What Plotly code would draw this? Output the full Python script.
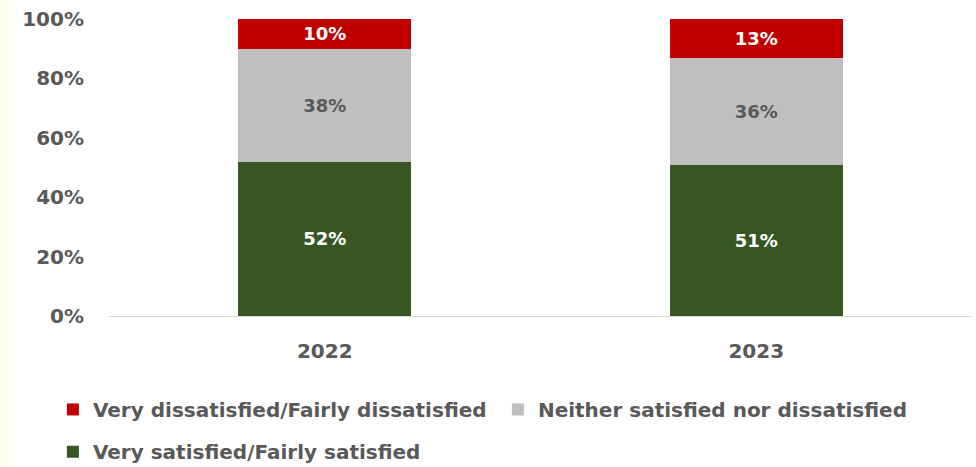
import plotly.graph_objects as go

# Survey years and the share of respondents in each satisfaction band (%)
years = ["2022", "2023"]
satisfied = [52, 51]
neither = [38, 36]
dissatisfied = [10, 13]

# Percentage axis ticks
y_ticks = [0, 20, 40, 60, 80, 100]
y_tick_labels = ["0%", "20%", "40%", "60%", "80%", "100%"]

names = [
    "Very satisfied/Fairly satisfied",
    "Neither satisfied nor dissatisfied",
    "Very dissatisfied/Fairly dissatisfied",
]
colors = ["#375623", "#BFBFBF", "#C00000"]
label_colors = ["#FFFFFF", "#595959", "#FFFFFF"]
legend_ids = ["legend2", "legend", "legend"]

FONT = "DejaVu Sans"
TEXT_GREY = "#595959"

fig = go.Figure()
for name, vals, col, lcol, lg in zip(
    names, [satisfied, neither, dissatisfied], colors, label_colors, legend_ids
):
    fig.add_trace(
        go.Bar(
            x=years,
            y=vals,
            name=name,
            marker=dict(color=col, line=dict(width=0)),
            text=vals,
            texttemplate="%{text}%",
            textposition="inside",
            insidetextanchor="middle",
            textangle=0,
            constraintext="none",
            textfont=dict(family=FONT, size=18, color=lcol, weight="bold"),
            legend=lg,
        )
    )

legend_font = dict(family=FONT, size=20, color=TEXT_GREY, weight="bold")

fig.update_layout(
    barmode="stack",
    bargap=0.6,
    width=976,
    height=467,
    margin=dict(l=109, r=4, t=19, b=151, autoexpand=False),
    paper_bgcolor="#FFFFFF",
    plot_bgcolor="#FFFFFF",
    font=dict(family=FONT, color=TEXT_GREY),
    legend=dict(
        orientation="h",
        x=-0.065,
        xanchor="left",
        y=-0.249,
        yanchor="top",
        traceorder="reversed",
        font=legend_font,
        entrywidth=400,
        entrywidthmode="pixels",
        itemclick=False,
        bgcolor="rgba(0,0,0,0)",
    ),
    legend2=dict(
        orientation="h",
        x=-0.065,
        xanchor="left",
        y=-0.391,
        yanchor="top",
        font=legend_font,
        itemclick=False,
        bgcolor="rgba(0,0,0,0)",
    ),
    shapes=[
        # pale cream strip down the left edge of the page
        dict(
            type="rect",
            xref="paper",
            yref="paper",
            x0=-109 / 863,
            x1=(9 - 109) / 863,
            y0=-151 / 297,
            y1=1 + 19 / 297,
            fillcolor="#FFFDF0",
            line=dict(width=0),
            layer="below",
        )
    ],
)

fig.update_xaxes(
    type="category",
    showline=True,
    linecolor="#D9D9D9",
    linewidth=1,
    showgrid=False,
    ticks="",
    ticklabelstandoff=17,
    tickfont=dict(family=FONT, size=20, color=TEXT_GREY, weight="bold"),
)
fig.update_yaxes(
    range=[0, 100],
    tickmode="array",
    tickvals=y_ticks,
    ticktext=y_tick_labels,
    showgrid=False,
    zeroline=False,
    showline=False,
    ticks="",
    ticklabelstandoff=24,
    tickfont=dict(family=FONT, size=20, color=TEXT_GREY, weight="bold"),
)

fig.write_html("out.html")
